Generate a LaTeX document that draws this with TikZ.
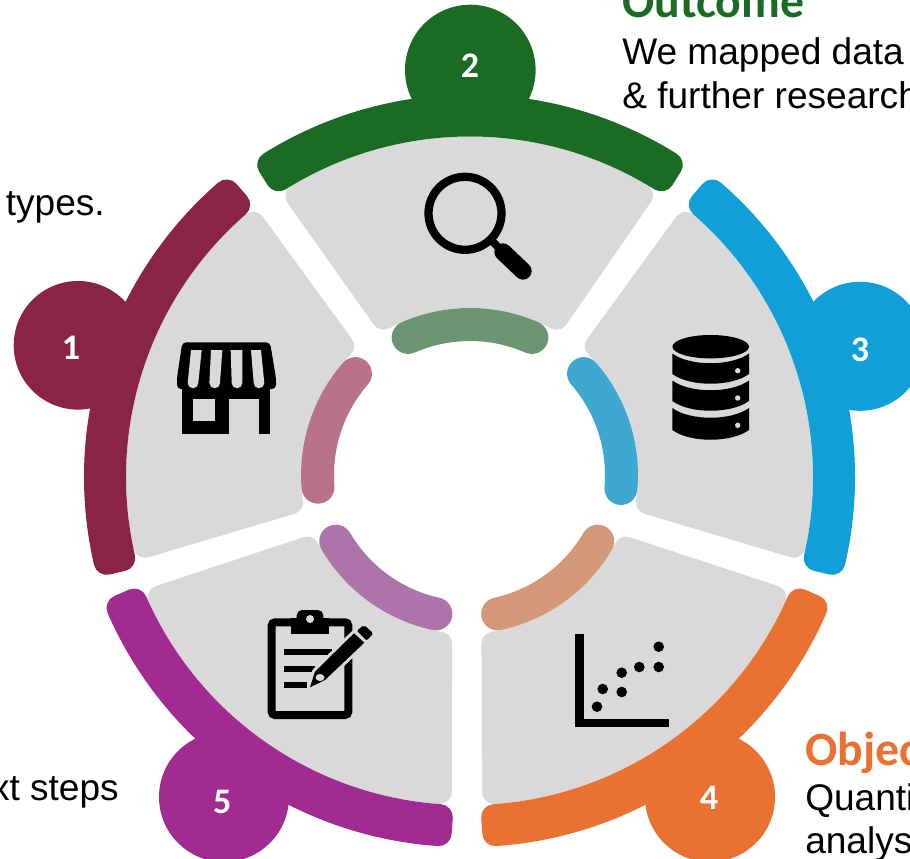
\documentclass[tikz,border=0pt]{standalone}
\usepackage{fontspec}
\setmainfont{Liberation Sans}
\newfontfamily\carl{Carlito}
\definecolor{cGrey}{HTML}{D9D9D9}
\definecolor{cRed}{HTML}{8A2446}
\definecolor{cGreen}{HTML}{1B6B25}
\definecolor{cBlue}{HTML}{119FD8}
\definecolor{cOrange}{HTML}{E97132}
\definecolor{cPurple}{HTML}{A22B92}
\definecolor{cRedL}{HTML}{B87389}
\definecolor{cGreenL}{HTML}{6B9671}
\definecolor{cBlueL}{HTML}{3EA8D1}
\definecolor{cOrangeL}{HTML}{D29878}
\definecolor{cPurpleL}{HTML}{AE73A8}
% arc in picture pixels (y down); angles given in the usual y-up sense
\newcommand{\arcfrom}[5]{({#1+#3*cos(-(#4))},{#2+#3*sin(-(#4))}) arc[start angle={-(#4)},end angle={-(#5)},radius=#3]}
\tikzset{
  sector/.style={fill=cGrey,draw=cGrey,line width=18pt,line join=round},
  band/.style={fill=#1,draw=#1,line width=19.5pt,line join=round},
  innerband/.style={draw=#1,line width=24.75pt,line cap=round},
  numdisc/.style={fill=#1},
  numlabel/.style={text=white,font=\carl\bfseries\fontsize{27}{30}\selectfont,inner sep=0pt},
  headtext/.style={anchor=base west,inner sep=0pt,font=\carl\bfseries\fontsize{35.8}{40}\selectfont,text=#1},
  bodytext/.style={inner sep=0pt,font=\fontsize{27.8}{32}\selectfont,text=black},
  icon/.style={fill=black},
  iconhole/.style={fill=cGrey}
}
\newcommand{\awningslot}[3]{\fill[iconhole] (#1,350) -- (#2,350) -- ({#3+5.3},383) arc[start angle=0,end angle=180,radius=5.3] -- cycle;}
\newcommand{\dbsection}[2]{\fill[icon] (672.3,#1) .. controls (690,{#1+13}) and (731,{#1+13}) .. (749,#1) -- (749,#2) .. controls (731,{#2+13}) and (690,{#2+13}) .. (672.3,#2) -- cycle;}
\begin{document}
\begin{tikzpicture}[x=0.75pt,y=0.75pt,yscale=-1]
\useasboundingbox (0,0) rectangle (910,859);
% number discs
\fill[numdisc=cRed] (78,345.3) circle[radius=64.3];
\fill[numdisc=cGreen] (470.3,70) circle[radius=65.3];
\fill[numdisc=cBlue] (860,346.3) circle[radius=64.5];
\fill[numdisc=cOrange] (710,797) circle[radius=65];
\fill[numdisc=cPurple] (224,797) circle[radius=65];
% grey sectors
\draw[sector] \arcfrom{474}{477}{336}{131.1}{191.8} -- \arcfrom{472}{475}{183}{188.6}{135.2} -- cycle;
\draw[sector] \arcfrom{470}{484.5}{336}{120.9}{59.4} -- \arcfrom{470}{479}{183}{61.8}{118.2} -- cycle;
\draw[sector] \arcfrom{465}{477}{336}{48.9}{-11.8} -- \arcfrom{467}{475}{183}{-8.6}{44.8} -- cycle;
\draw[sector] \arcfrom{469}{457}{336}{335.3}{274.3} -- \arcfrom{464.5}{463}{183}{279.1}{332.1} -- cycle;
\draw[sector] \arcfrom{465}{457}{336}{204.7}{265.7} -- \arcfrom{469}{463}{183}{260.9}{207.9} -- cycle;
% outer bands
\draw[band=cRed] \arcfrom{474}{477}{377}{131}{193} -- \arcfrom{474}{477}{361}{193}{131} -- cycle;
\draw[band=cGreen] \arcfrom{470}{484.5}{377}{122}{58} -- \arcfrom{470}{484.5}{361}{58}{122} -- cycle;
\draw[band=cBlue] \arcfrom{465}{477}{377}{49}{-13} -- \arcfrom{465}{477}{361}{-13}{49} -- cycle;
\draw[band=cOrange] \arcfrom{469}{457}{377}{336.4}{274} -- \arcfrom{469}{457}{361}{274}{336.4} -- cycle;
\draw[band=cPurple] \arcfrom{465}{457}{377}{203.6}{266} -- \arcfrom{465}{457}{361}{266}{203.6} -- cycle;
% inner bands
\draw[innerband=cRedL] \arcfrom{472}{475}{154.5}{139}{184.5};
\draw[innerband=cGreenL] \arcfrom{470}{479}{154.5}{113.6}{66.4};
\draw[innerband=cBlueL] \arcfrom{467}{475}{154.5}{41}{-5};
\draw[innerband=cOrangeL] \arcfrom{464.5}{463}{154.5}{329.6}{282.4};
\draw[innerband=cPurpleL] \arcfrom{469}{463}{154.5}{210.4}{257.6};
% numbers
\node[numlabel] (n1) at (71,347.7) {1};
\node[numlabel] (n2) at (470,65.7) {2};
\node[numlabel] (n3) at (860,350) {3};
\node[numlabel] (n4) at (709,798.3) {4};
\node[numlabel] (n5) at (222.3,801.7) {5};
% texts
\node[headtext=cGreen] (outh) at (622,18) {Outcome};
\node[bodytext,anchor=base west] (out1) at (622,64.5) {We mapped data};
\node[bodytext,anchor=base west] (out2) at (622,109) {\& further research};
\node[bodytext,anchor=base east] (ty) at (105,216) {types.};
\node[bodytext,anchor=base east] (st) at (119,800) {xt steps};
\node[headtext=cOrange] (objh) at (805,765) {Objec};
\node[bodytext,anchor=base west] (obj1) at (805,810) {Quanti};
\node[bodytext,anchor=base west] (obj2) at (805,853) {analys};
% magnifier
\draw[line width=6.2pt] (465,213.3) circle[radius=36.5];
\draw[line width=6pt] (490,239) -- (503,252);
\draw[line width=13pt,line cap=round] (503,252) -- (523,271);
% store
\fill[icon,rounded corners=3pt] (182.3,342.3) -- (270,342.3) -- (276,378) -- (276,389) -- (177,389) -- (177,378) -- cycle;
\fill[icon] (182.3,385) rectangle (270,434.3);
\awningslot{191}{201.7}{193}
\awningslot{211}{222.3}{214.7}
\awningslot{230.7}{242.3}{237}
\awningslot{251}{261}{259}
\fill[iconhole] (193.3,399.3) rectangle (215,421);
\fill[iconhole] (229,399.3) rectangle (259,435);
% database
\fill[icon] (710.7,346.7) ellipse[x radius=38.3,y radius=11.7];
\dbsection{353.5}{374}
\dbsection{380.5}{401}
\dbsection{408}{430}
\fill[iconhole] (737.7,370.7) circle[radius=2.7];
\fill[iconhole] (737.7,398) circle[radius=2.7];
\fill[iconhole] (737.7,425.3) circle[radius=2.7];
% chart
\fill[icon] (575.3,634.3) rectangle (583.7,727.3);
\fill[icon] (575.3,719) rectangle (668.7,727.3);
\foreach \dx/\dy in {597/706.7,602.7/689,621.7/692,621.7/672.7,639.3/667,658.7/667,658.7/646.7}
  \fill[icon] (\dx,\dy) circle[radius=5.3];
% clipboard
\draw[line width=6pt,rounded corners=2.5pt] (271.7,622.3) rectangle (348.3,715);
\fill[icon] (291,618) rectangle (329,634.3);
\fill[icon,rounded corners=4pt] (296.7,610) rectangle (323.3,624);
\fill[iconhole] (310,619) circle[radius=4];
\fill[icon] (284,649.3) rectangle (331.7,655);
\fill[icon] (284,666) rectangle (315,671.7);
\fill[icon] (284,682.3) rectangle (306.7,687.7);
\draw[draw=cGrey,fill=cGrey,line width=4.5pt,line join=round] (354,633.3) -- (364.3,642.7) -- (325,680) -- (310,687.3) -- (315,671.7) -- cycle;
\fill[icon] (354,633.3) -- (364.3,642.7) -- (325,680) -- (310,687.3) -- (315,671.7) -- cycle;
\fill[icon,rounded corners=1.5pt] (356.7,630.7) -- (364,625) -- (373.3,633.3) -- (366.7,640.7) -- cycle;
\fill[iconhole] (320,677.5) ellipse[x radius=4.5,y radius=3.5];
\end{tikzpicture}
\end{document}
